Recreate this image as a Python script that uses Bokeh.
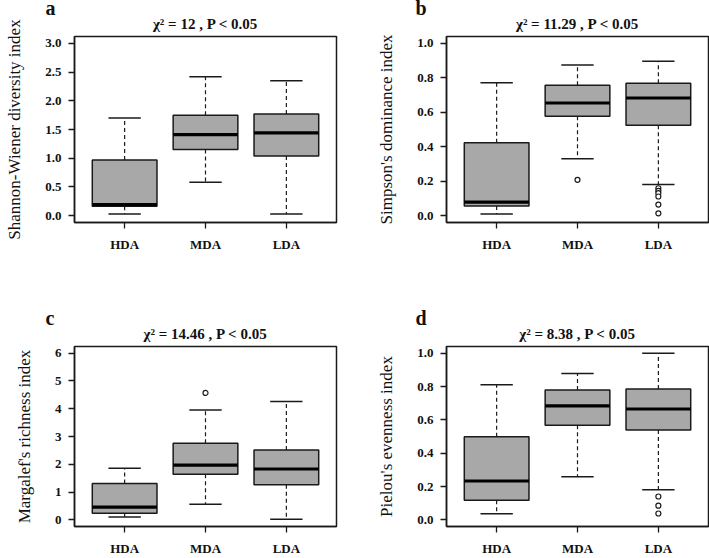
from bokeh.plotting import figure
from bokeh.layouts import gridplot
from bokeh.models import Range1d, FixedTicker, ColumnDataSource, Title
from bokeh.embed import file_html
from bokeh.resources import INLINE

cats = ["HDA", "MDA", "LDA"]

# a: Shannon-Wiener
sw_lower = [0.03, 0.58, 0.03]
sw_q1 = [0.165, 1.15, 1.04]
sw_med = [0.19, 1.41, 1.44]
sw_q3 = [0.97, 1.75, 1.77]
sw_upper = [1.70, 2.42, 2.35]
sw_out_cat = []
sw_out_val = []

# b: Simpson
si_lower = [0.01, 0.33, 0.18]
si_q1 = [0.056, 0.577, 0.524]
si_med = [0.078, 0.654, 0.683]
si_q3 = [0.423, 0.757, 0.769]
si_upper = [0.771, 0.874, 0.897]
si_out_cat = ["MDA", "LDA", "LDA", "LDA", "LDA", "LDA", "LDA"]
si_out_val = [0.208, 0.159, 0.144, 0.130, 0.111, 0.064, 0.013]

# c: Margalef
ma_lower = [0.10, 0.56, 0.02]
ma_q1 = [0.24, 1.64, 1.26]
ma_med = [0.46, 1.97, 1.83]
ma_q3 = [1.31, 2.76, 2.51]
ma_upper = [1.86, 3.95, 4.26]
ma_out_cat = ["MDA"]
ma_out_val = [4.57]

# d: Pielou
pi_lower = [0.037, 0.258, 0.18]
pi_q1 = [0.118, 0.568, 0.539]
pi_med = [0.233, 0.684, 0.665]
pi_q3 = [0.498, 0.779, 0.785]
pi_upper = [0.81, 0.878, 1.0]
pi_out_cat = ["LDA", "LDA", "LDA"]
pi_out_val = [0.14, 0.085, 0.038]

titles = ["χ² = 12 , P < 0.05", "χ² = 11.29 , P < 0.05",
          "χ² = 14.46 , P < 0.05", "χ² = 8.38 , P < 0.05"]
ylabels = ["Shannon-Wiener diversity index", "Simpson's dominance index",
           "Margalef's richness index", "Pielou's evenness index"]
letters = ["a", "b", "c", "d"]
yticks_a = [0.0, 0.5, 1.0, 1.5, 2.0, 2.5, 3.0]
yticks_b = [0.0, 0.2, 0.4, 0.6, 0.8, 1.0]
yticks_c = [0, 1, 2, 3, 4, 5, 6]
yticks_d = [0.0, 0.2, 0.4, 0.6, 0.8, 1.0]

SERIF = "Liberation Serif"
BOXFILL = "#A8A8A8"
LINE = "#1a1a1a"
FW, FH = 262, 186  # frame size in px


def panel(lower, q1, med, q3, upper, out_cat, out_val, yticks, fmt,
          title, ylabel, letter, left, right, top, bottom, letter_dx):
    ylo, yhi = yticks[0], yticks[-1]
    pad = 0.04 * (yhi - ylo)
    xr = Range1d(0.38, 3.62)
    yr = Range1d(ylo - pad, yhi + pad)
    p = figure(width=left + FW + right, height=top + FH + bottom,
               x_range=xr, y_range=yr,
               output_backend="svg", toolbar_location=None,
               min_border_left=left, min_border_right=right,
               min_border_top=top, min_border_bottom=bottom)
    xs = [i + 1 for i in range(len(cats))]
    src = ColumnDataSource(dict(
        x=xs, lower=lower, q1=q1, med=med, q3=q3, upper=upper,
        x0=[x - 0.4 for x in xs], x1=[x + 0.4 for x in xs],
        s0=[x - 0.2 for x in xs], s1=[x + 0.2 for x in xs]))
    # whiskers
    p.segment(x0="x", y0="q3", x1="x", y1="upper", source=src,
              line_color=LINE, line_width=1.2, line_dash="4 3")
    p.segment(x0="x", y0="q1", x1="x", y1="lower", source=src,
              line_color=LINE, line_width=1.2, line_dash="4 3")
    # staples
    p.segment(x0="s0", y0="upper", x1="s1", y1="upper", source=src,
              line_color=LINE, line_width=1.5)
    p.segment(x0="s0", y0="lower", x1="s1", y1="lower", source=src,
              line_color=LINE, line_width=1.5)
    # boxes
    p.vbar(x="x", width=0.8, bottom="q1", top="q3", source=src,
           fill_color=BOXFILL, line_color=LINE, line_width=1.5)
    # medians
    p.segment(x0="x0", y0="med", x1="x1", y1="med", source=src,
              line_color="black", line_width=3.2)
    # outliers
    if out_val:
        ox = [cats.index(c) + 1 for c in out_cat]
        p.scatter(ox, out_val, marker="circle", size=5, fill_color="white",
                  line_color=LINE, line_width=1.2)

    p.xgrid.visible = False
    p.ygrid.visible = False
    p.outline_line_color = LINE
    p.outline_line_width = 1.5
    p.outline_line_alpha = 1.0

    p.xaxis.ticker = FixedTicker(ticks=xs)
    p.xaxis.major_label_overrides = {x: c for x, c in zip(xs, cats)}
    p.yaxis.ticker = FixedTicker(ticks=yticks)
    p.yaxis.major_label_overrides = {t: fmt.format(t) for t in yticks}
    for ax in (p.xaxis[0], p.yaxis[0]):
        ax.minor_tick_line_color = None
        ax.major_tick_out = 6
        ax.major_tick_in = 0
        ax.major_tick_line_color = LINE
        ax.major_tick_line_width = 1.3
        ax.axis_line_color = LINE
        ax.axis_line_width = 1.5
        ax.major_label_text_font = SERIF
        ax.major_label_text_font_style = "bold"
        ax.major_label_text_font_size = "13px"
        ax.major_label_text_color = "#111111"
        ax.major_label_standoff = 7
    p.xaxis.major_label_standoff = 8
    p.yaxis.axis_label = ylabel
    p.yaxis.axis_label_text_font = SERIF
    p.yaxis.axis_label_text_font_style = "normal"
    p.yaxis.axis_label_text_font_size = "17px"
    p.yaxis.axis_label_text_color = "#111111"
    p.yaxis.axis_label_standoff = 18

    # panel letter: outer title, pulled down beside the statistic line
    p.title.text = letter
    p.title.align = "left"
    p.title.offset = letter_dx
    p.title.text_font = SERIF
    p.title.text_font_style = "bold"
    p.title.text_font_size = "20px"
    p.title.text_color = "#111111"
    p.title.standoff = -21
    # statistic: inner title, centred over the frame
    p.add_layout(Title(text=title, align="center",
                       text_font=SERIF, text_font_style="bold",
                       text_font_size="15px", text_color="#111111",
                       standoff=10), "above")
    return p


pa = panel(sw_lower, sw_q1, sw_med, sw_q3, sw_upper, sw_out_cat, sw_out_val,
           yticks_a, "{:.1f}", titles[0], ylabels[0], letters[0],
           74, 18, 36, 57, -29)
pb = panel(si_lower, si_q1, si_med, si_q3, si_upper, si_out_cat, si_out_val,
           yticks_b, "{:.1f}", titles[1], ylabels[1], letters[1],
           92, 1, 36, 57, -31)
pc = panel(ma_lower, ma_q1, ma_med, ma_q3, ma_upper, ma_out_cat, ma_out_val,
           yticks_c, "{:.0f}", titles[2], ylabels[2], letters[2],
           74, 18, 67, 26, -29)
pd_ = panel(pi_lower, pi_q1, pi_med, pi_q3, pi_upper, pi_out_cat, pi_out_val,
            yticks_d, "{:.1f}", titles[3], ylabels[3], letters[3],
            92, 1, 67, 26, -31)

grid = gridplot([[pa, pb], [pc, pd_]], toolbar_location=None)
open("out.html", "w").write(file_html(grid, INLINE))
